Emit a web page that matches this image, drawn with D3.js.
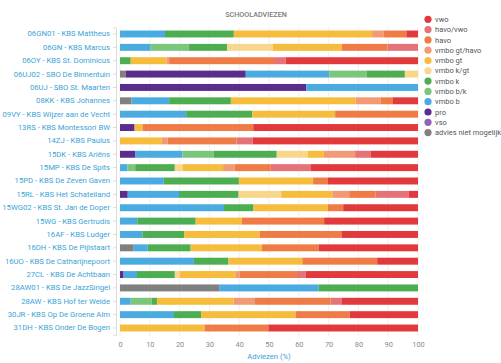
<!DOCTYPE html>
<html>
    <head>
        <meta charset="utf-8">
        <script src="https://d3js.org/d3.v7.min.js"></script>
        <style>
            body { margin: 0; background: #fff; font-family: Roboto, "Noto Sans", sans-serif; }
        </style>
    </head>
    <body>
        <div id="Graph"></div>
        <script>
            var scholen = ["06GN01 - KBS Mattheus", "06GN - KBS Marcus", "06OY - KBS St. Dominicus",
                "06UJ02 - SBO De Binnentuin", "06UJ - SBO St. Maarten", "08KK - KBS Johannes",
                "09VY - KBS Wijzer aan de Vecht", "13RS - KBS Montessori BW", "14ZJ - KBS Paulus",
                "15DK - KBS Ariëns", "15MP - KBS De Spits", "15PD - KBS De Zeven Gaven",
                "15RL - KBS Het Schateiland", "15WG02 - KBS St. Jan de Doper", "15WG - KBS Gertrudis",
                "16AF - KBS Ludger", "16DH - KBS De Pijlstaart", "16UO - KBS De Catharijnepoort",
                "27CL - KBS De Achtbaan", "28AW01 - KBS De JazzSingel", "28AW - KBS Hof ter Weide",
                "30JR - KBS Op De Groene Alm", "31DH - KBS Onder De Bogen"]

            // legenda volgorde (boven naar beneden)
            var adviezen = ["vwo", "havo/vwo", "havo", "vmbo gt/havo", "vmbo gt", "vmbo k/gt",
                "vmbo k", "vmbo b/k", "vmbo b", "pro", "vso", "advies niet mogelijk"]
            var kleuren = ["#e2393c", "#e57277", "#ef7c47", "#f29a73", "#f6bc3c", "#f8d68c",
                "#4cae50", "#7cc67c", "#4aabe0", "#5a2d8c", "#8e62b8", "#808080"]

            // percentages per advies, per school
            var niet = [0,0,0,1.9,0,3.9,0,0,0,0,0,0,0,0,0,0,4.6,0,0,33.3,0,0,0]
            var vso  = [0,0,0,0,0,0,0,0,0,0,0,0,0,0,0,0,0,0,0,0,0,0,0]
            var pro  = [0,0,0,40.3,62.5,0,0,4.9,0,5.2,0,0,2.6,0,0,0,0,0,1.2,0,0,0,0]
            var b    = [15.1,10.3,0,28,37.5,12.6,22.2,0,0,15.8,2.5,14.7,17.2,34.9,5.8,7.5,4.7,24.8,4.5,33.3,3.6,18.1,0]
            var bk   = [0,12.8,0,12.5,0,0,0,0,0,10.5,2.6,0,0,0,0,0,0,0,0,0,7,0,0]
            var k    = [23.1,12.8,3.6,12.9,0,20.7,22.2,0,0,21.1,13.3,25.2,20,9.9,19.6,14,14.4,11.6,12.7,33.4,1.8,9.1,0]
            var kgt  = [0,15.4,0,4.4,0,0,0,0,0,10.5,2.6,0,14.3,0,0,0,0,0,1.7,0,0,0,0]
            var gt   = [46.4,23.1,12,0,0,41.9,27.8,2.7,14,5.3,13.6,24.9,17.2,25,15.5,25.4,23.9,24.8,18.8,0,25.7,31.7,28.4]
            var gth  = [3.9,0,0.9,0,0,8.3,0,0,2,10.5,3.9,0,5.6,0,0,0,0,0,1.3,0,7.2,0,0]
            var havo = [7.6,15.4,35.2,0,0,4.2,27.8,37.1,23.1,0,12.1,5,8.9,5.1,27.6,27.4,19.1,25.1,19.2,0,25.3,18.2,21.4]
            var hv   = [0,10.2,3.9,0,0,0,0,0,5.4,5.3,13.3,0,11.1,0,0,0,0,0,2.9,0,3.7,0,0]
            var vwo  = [3.9,0,44.4,0,0,8.4,0,55.3,55.5,15.8,36.1,30.2,3.1,25.1,31.5,25.7,33.3,13.7,37.7,0,25.7,22.9,50.2]

            var xTicks = [0,10,20,30,40,50,60,70,80,90,100]

            var reeksen = {"vwo": vwo, "havo/vwo": hv, "havo": havo, "vmbo gt/havo": gth, "vmbo gt": gt,
                "vmbo k/gt": kgt, "vmbo k": k, "vmbo b/k": bk, "vmbo b": b, "pro": pro, "vso": vso,
                "advies niet mogelijk": niet}

            var data = scholen.map(function(s, i) {
                var row = {school: s}
                adviezen.forEach(function(a) { row[a] = reeksen[a][i] })
                return row
            })

            var width = 501, height = 363
            var svg = d3.select("#Graph").append("svg")
                .attr("width", width)
                .attr("height", height)

            var x = d3.scaleLinear().domain([0, 100]).range([120, 418])
            var y = d3.scaleBand().domain(scholen).range([27.3, 334.7])
                .paddingInner(0.48).paddingOuter(0.24)
            var color = d3.scaleOrdinal().domain(adviezen).range(kleuren)

            // grid
            svg.append("g").selectAll("line")
                .data(xTicks)
                .enter().append("line")
                .attr("x1", function(d) { return x(d) })
                .attr("x2", function(d) { return x(d) })
                .attr("y1", 27)
                .attr("y2", 336)
                .attr("stroke", "#ececec")
                .attr("stroke-width", 0.8)

            // stapel: van links advies niet mogelijk ... vwo rechts
            var stack = d3.stack().keys(adviezen.slice().reverse())
            var series = stack(data)

            svg.append("g").selectAll("g")
                .data(series)
                .enter().append("g")
                .attr("fill", function(d) { return color(d.key) })
                .selectAll("rect")
                .data(function(d) { return d })
                .enter().append("rect")
                .attr("x", function(d) { return x(d[0]) })
                .attr("y", function(d) { return y(d.data.school) })
                .attr("width", function(d) { return Math.max(0, x(d[1]) - x(d[0])) })
                .attr("height", y.bandwidth())

            // y as
            var yAxis = svg.append("g")
                .attr("transform", "translate(116,0)")
                .call(d3.axisLeft(y).tickSize(3).tickPadding(3))
            yAxis.select(".domain").attr("stroke", "#dcdcdc")
            yAxis.selectAll(".tick line").attr("stroke", "#dcdcdc")
            yAxis.selectAll("text")
                .attr("fill", "#3aa3d6")
                .attr("font-size", "7.7px")
                .attr("font-family", "Roboto, sans-serif")

            // x as
            var xAxis = svg.append("g")
                .attr("transform", "translate(0,336)")
                .call(d3.axisBottom(x).tickValues(xTicks).tickSize(0).tickPadding(6))
            xAxis.select(".domain").remove()
            xAxis.selectAll("text")
                .attr("fill", "#8a8a8a")
                .attr("font-size", "7.4px")
                .attr("font-family", "Roboto, sans-serif")

            svg.append("text")
                .attr("x", 269)
                .attr("y", 359)
                .attr("text-anchor", "middle")
                .attr("fill", "#3aa3d6")
                .attr("font-size", "7.6px")
                .attr("font-family", "Roboto, sans-serif")
                .text("Adviezen (%)")

            svg.append("text")
                .attr("x", 256)
                .attr("y", 17)
                .attr("text-anchor", "middle")
                .attr("fill", "#7a7a7a")
                .attr("font-size", "7.2px")
                .attr("font-weight", "500")
                .attr("font-family", "Roboto, sans-serif")
                .text("SCHOOLADVIEZEN")

            // legenda
            var legend = svg.append("g").selectAll("g")
                .data(adviezen)
                .enter().append("g")
                .attr("transform", function(d, i) { return "translate(428," + (19.3 + i * 10.3) + ")" })
            legend.append("circle")
                .attr("r", 3.6)
                .attr("fill", function(d) { return color(d) })
            legend.append("text")
                .attr("x", 7)
                .attr("y", 2.6)
                .attr("fill", "#555")
                .attr("font-size", "7.5px")
                .attr("font-family", "Roboto, sans-serif")
                .text(function(d) { return d })
        </script>
    </body>
</html>
